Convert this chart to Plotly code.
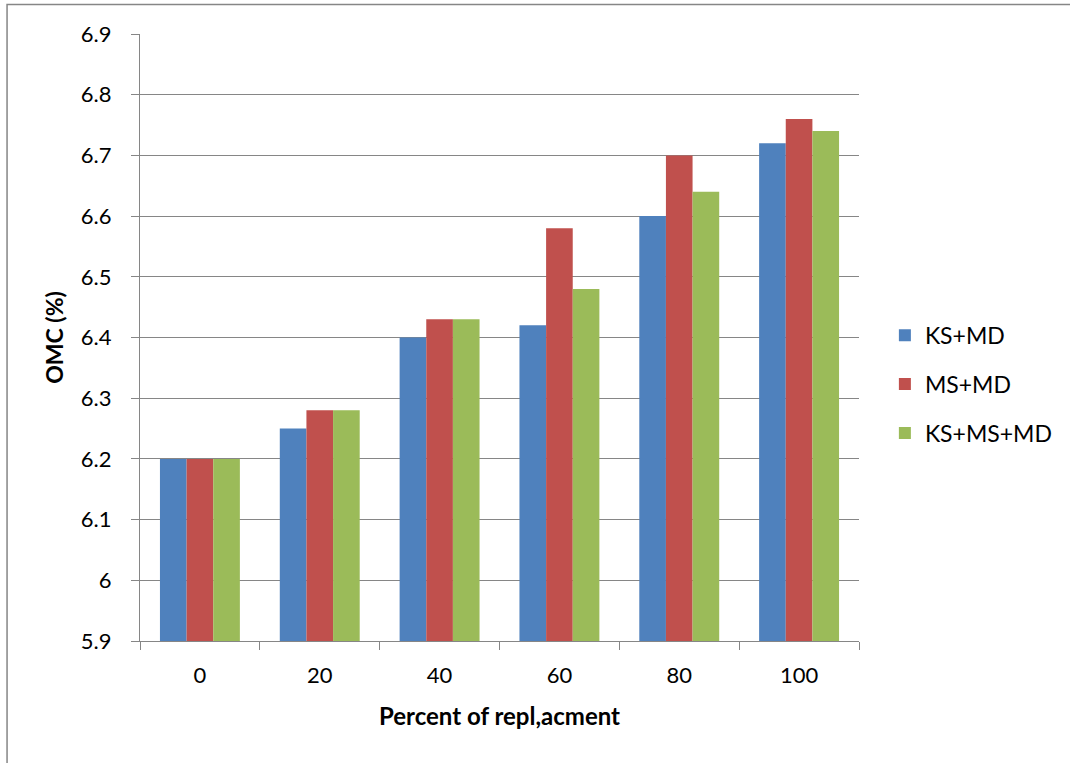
import plotly.graph_objects as go

categories = ["0", "20", "40", "60", "80", "100"]
ks_md = [6.20, 6.25, 6.40, 6.42, 6.60, 6.72]
ms_md = [6.20, 6.28, 6.43, 6.58, 6.70, 6.76]
ks_ms_md = [6.20, 6.28, 6.43, 6.48, 6.64, 6.74]
series_names = ["KS+MD", "MS+MD", "KS+MS+MD"]
colors = ["#4F81BD", "#C0504D", "#9BBB59"]
y_tickvals = [5.9, 6.0, 6.1, 6.2, 6.3, 6.4, 6.5, 6.6, 6.7, 6.8, 6.9]
y_ticktext = ["5.9", "6", "6.1", "6.2", "6.3", "6.4", "6.5", "6.6", "6.7", "6.8", "6.9"]

FONT = "Lato, Open Sans, sans-serif"
GRAY = "#868686"
fig = go.Figure()
for i, (name, vals) in enumerate(zip(series_names, [ks_md, ms_md, ks_ms_md])):
    fig.add_trace(go.Bar(x=categories, y=vals, name=name, legendgroup=name,
                         marker=dict(color=colors[i], line=dict(width=0))))

fig.update_layout(
    width=1070, height=763,
    margin=dict(l=140, r=208, t=34, b=122),
    paper_bgcolor="white", plot_bgcolor="white",
    barmode="group", bargap=0.333, bargroupgap=0,
    font=dict(family=FONT, size=22, color="black"),
    legend=dict(x=1.036, y=0.423, xanchor="left", yanchor="middle",
                font=dict(size=23, family=FONT), tracegroupgap=16,
                itemwidth=30),
    xaxis=dict(type="category", showline=True, linecolor=GRAY, linewidth=1.3,
               ticks="outside", tickson="boundaries", ticklen=8, tickcolor=GRAY,
               tickfont=dict(size=22), ticklabelstandoff=14,
               title=dict(text="<b>Percent of repl,acment</b>", font=dict(size=24), standoff=21)),
    yaxis=dict(range=[5.9, 6.9], tickvals=y_tickvals, ticktext=y_ticktext,
               showline=True, linecolor=GRAY, linewidth=1.3,
               ticks="outside", ticklen=8, tickcolor=GRAY,
               showgrid=True, gridcolor=GRAY, gridwidth=1.4,
               tickfont=dict(size=22), zeroline=False, ticklabelstandoff=15,
               title=dict(text="<b>OMC (%)</b>", font=dict(size=23), standoff=10)),
    showlegend=True,
)
fig.add_shape(type="rect", xref="paper", yref="paper",
              x0=-0.1849, x1=1.5, y0=-0.25, y1=1.0486,
              line=dict(color=GRAY, width=1.5), layer="below")
fig.write_html("out.html", config={"displayModeBar": False},
               post_script="document.body.style.margin='0';")
